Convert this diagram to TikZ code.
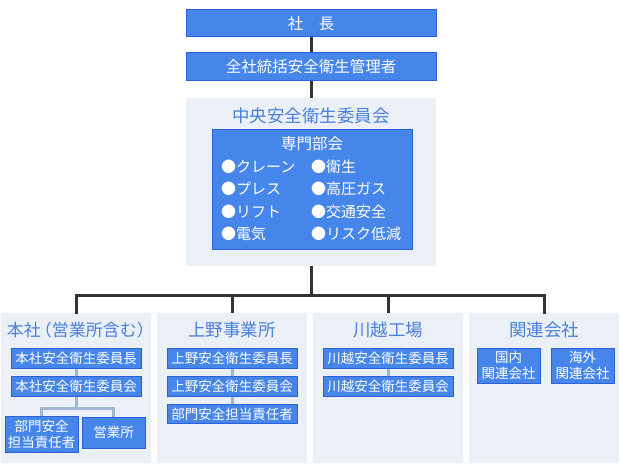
\documentclass[tikz,border=0pt]{standalone}
\usepackage{fontspec}
\setmainfont{Noto Sans CJK JP}
\definecolor{boxfill}{RGB}{70,134,234}
\definecolor{boxline}{RGB}{45,97,214}
\definecolor{panelbg}{RGB}{235,240,247}
\definecolor{titleblue}{RGB}{74,128,219}
\definecolor{subline}{RGB}{160,184,210}
\definecolor{mainline}{RGB}{51,51,51}
\tikzset{
  bluebox/.style={draw=boxline, line width=1pt, fill=boxfill, text=white, inner sep=0pt, align=center},
  topbox/.style={bluebox, minimum width=250pt, font=\fontsize{15.5}{18}\selectfont},
  subbox/.style={bluebox, minimum width=130pt, minimum height=20pt, font=\fontsize{13.5}{16}\selectfont},
  smallbox/.style={bluebox, font=\fontsize{13.5}{16}\selectfont},
  panel/.style={fill=panelbg, draw=none, inner sep=0pt, minimum width=150pt, minimum height=150pt},
  paneltitle/.style={text=titleblue, inner sep=0pt, font=\fontsize{17.5}{20}\selectfont},
  item/.style={text=white, inner sep=0pt, anchor=west, font=\fontsize{15}{18}\selectfont},
  mainconn/.style={draw=mainline, line width=3pt},
  subconn/.style={draw=subline, line width=3pt},
}
\begin{document}
\begin{tikzpicture}[x=1pt,y=-1pt]
\useasboundingbox (0,0) rectangle (620,470);
% top
\node[topbox, minimum height=27pt] (pres) at (311,23.5) {社　長};
\node[topbox, minimum height=28pt] (mgr) at (311,67) {全社統括安全衛生管理者};
\node[panel, minimum width=250pt, minimum height=168pt] (central) at (311,182) {};
\draw[mainconn] (pres) -- (mgr);
\draw[mainconn] (mgr) -- (central);
\node[paneltitle] (ctitle) at (311,116) {中央安全衛生委員会};
\node[bluebox, minimum width=200pt, minimum height=119pt] (expert) at (312,189.5) {};
\node[text=white, inner sep=0pt, font=\fontsize{15.5}{18}\selectfont] (etitle) at (312,144) {専門部会};
\node[item] (i1) at (221,167) {●クレーン};
\node[item] (i2) at (221,189) {●プレス};
\node[item] (i3) at (221,212) {●リフト};
\node[item] (i4) at (221,234) {●電気};
\node[item] (j1) at (311,167) {●衛生};
\node[item] (j2) at (311,189) {●高圧ガス};
\node[item] (j3) at (311,212) {●交通安全};
\node[item] (j4) at (311,234) {●リスク低減};
% panels
\node[panel] (p1) at (76,388) {};
\node[panel] (p2) at (232,388) {};
\node[panel] (p3) at (388,388) {};
\node[panel] (p4) at (544,388) {};
\coordinate (bus) at (311,295);
\draw[mainconn] (central.south) -- (bus);
\draw[mainconn, line cap=rect] (p1.north) |- (bus) -| (p4.north);
\draw[mainconn] (p2.north) |- (bus);
\draw[mainconn] (p3.north) |- (bus);
% panel 1
\node[paneltitle, font=\fontsize{17}{20}\selectfont] (t1) at (76,330) {本社\hspace{2.5pt}{\addfontfeatures{RawFeature=+halt}（}営業所含む{\addfontfeatures{RawFeature=+halt}）}};
\node[subbox] (a1) at (76,358) {本社安全衛生委員長};
\node[subbox] (b1) at (76,386.5) {本社安全衛生委員会};
\node[smallbox, minimum width=73pt, minimum height=36pt] (c1) at (41.5,434) {部門安全\\担当責任者};
\node[smallbox, minimum width=63pt, minimum height=31pt] (d1) at (113.5,432.5) {営業所};
\draw[subconn] (a1) -- (b1);
\coordinate (br1) at (76,408);
\draw[subconn] (b1) -- (br1);
\draw[subconn] (c1.north) |- (br1) -| (d1.north);
% panel 2
\node[paneltitle] (t2) at (232,330) {上野事業所};
\node[subbox] (a2) at (232,358) {上野安全衛生委員長};
\node[subbox] (b2) at (232,386.5) {上野安全衛生委員会};
\node[subbox, minimum height=19pt] (c2) at (232,414) {部門安全担当責任者};
\draw[subconn] (a2) -- (b2);
\draw[subconn] (b2) -- (c2);
% panel 3
\node[paneltitle] (t3) at (388,330) {川越工場};
\node[subbox] (a3) at (388,358) {川越安全衛生委員長};
\node[subbox] (b3) at (388,386.5) {川越安全衛生委員会};
\draw[subconn] (a3) -- (b3);
% panel 4
\node[paneltitle] (t4) at (544,330) {関連会社};
\node[smallbox, minimum width=63pt, minimum height=35pt] (a4) at (508.5,365.5) {国内\\関連会社};
\node[smallbox, minimum width=63pt, minimum height=35pt] (b4) at (582.5,365.5) {海外\\関連会社};
\end{tikzpicture}
\end{document}
